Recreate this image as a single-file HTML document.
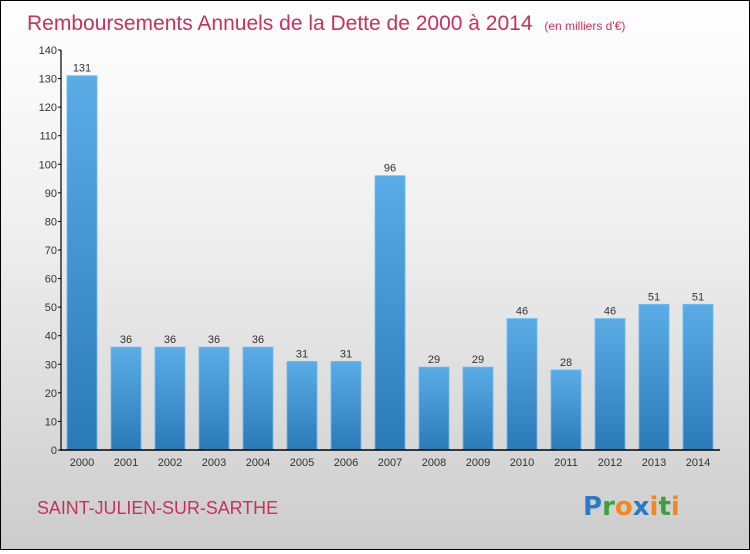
<!DOCTYPE html>
<html><head><meta charset="utf-8">
<style>
html,body{margin:0;padding:0;}
body{width:750px;height:550px;overflow:hidden;font-family:"Liberation Sans",sans-serif;}
#wrap{position:absolute;left:0;top:0;width:748px;height:548px;border:1px solid #000;background:linear-gradient(#ffffff 0%,#f0f0f0 40%,#cccccc 100%);}
</style></head>
<body>
<div id="wrap">
<svg id="chart" width="748" height="548">
<defs>
<linearGradient id="barg" x1="0" y1="0" x2="0" y2="1">
<stop offset="0" stop-color="#5aace6"/><stop offset="1" stop-color="#2a7ab8"/>
</linearGradient>
</defs>
<text x="26" y="29" font-size="21" fill="#c8305e">Remboursements Annuels de la Dette de 2000 à 2014 <tspan font-size="12" dx="6">(en milliers d'€)</tspan></text>
<text x="36" y="513" font-size="18" fill="#c8305e" textLength="241" lengthAdjust="spacingAndGlyphs">SAINT-JULIEN-SUR-SARTHE</text>
<text x="582" y="514" font-size="26" font-family="'DejaVu Sans',sans-serif" font-weight="bold"><tspan fill="#2a7ac8">P</tspan><tspan fill="#3aa040">r</tspan><tspan fill="#f08a20">o</tspan><tspan fill="#2a7ac8">x</tspan><tspan fill="#f08a20">i</tspan><tspan fill="#3aa040">t</tspan><tspan fill="#f08a20">i</tspan></text>
<g id="plot"></g>
</svg>
</div>
<script>
const categories=["2000","2001","2002","2003","2004","2005","2006","2007","2008","2009","2010","2011","2012","2013","2014"];
const values=[131,36,36,36,36,31,31,96,29,29,46,28,46,51,51];
const yTicks=[0,10,20,30,40,50,60,70,80,90,100,110,120,130,140];
const NS="http://www.w3.org/2000/svg";
const g=document.getElementById('plot');
const y0=449,yTop=49,yMax=140,x0=60,step=44,bw=30,firstC=81;
function yS(v){return y0-(v/yMax)*(y0-yTop);}
function xS(i){return firstC+i*step;}
function mk(t,a){const e=document.createElementNS(NS,t);for(const k in a)e.setAttribute(k,a[k]);g.appendChild(e);return e;}
yTicks.forEach(v=>{
 const t=mk('line',{x1:x0-3,x2:x0,y1:yS(v),y2:yS(v),stroke:'#000'});
 
 
 const l=mk('text',{x:x0-4,y:yS(v)+4,'font-size':11,fill:'#333','text-anchor':'end'});
 l.textContent=v;
 
 
});
categories.forEach((c,i)=>{
 const v=values[i];
 const r=mk('rect',{x:xS(i)-bw/2,y:yS(v),width:bw,height:y0-yS(v),fill:'url(#barg)',stroke:'#6bbcf0','stroke-width':0.8});
 
 
 const vl=mk('text',{x:xS(i),y:yS(v)-4,'font-size':11,fill:'#333','text-anchor':'middle'});
 vl.textContent=v;
 
 
 const xl=mk('text',{x:xS(i),y:y0+16,'font-size':11,fill:'#333','text-anchor':'middle'});
 xl.textContent=c;
 
 
});
const ya=mk('line',{x1:x0,x2:x0,y1:yTop,y2:y0+1,stroke:'#000','stroke-width':1.2});


const xa=mk('line',{x1:x0,x2:719,y1:y0,y2:y0,stroke:'#000','stroke-width':1.5});


</script>
</body></html>
